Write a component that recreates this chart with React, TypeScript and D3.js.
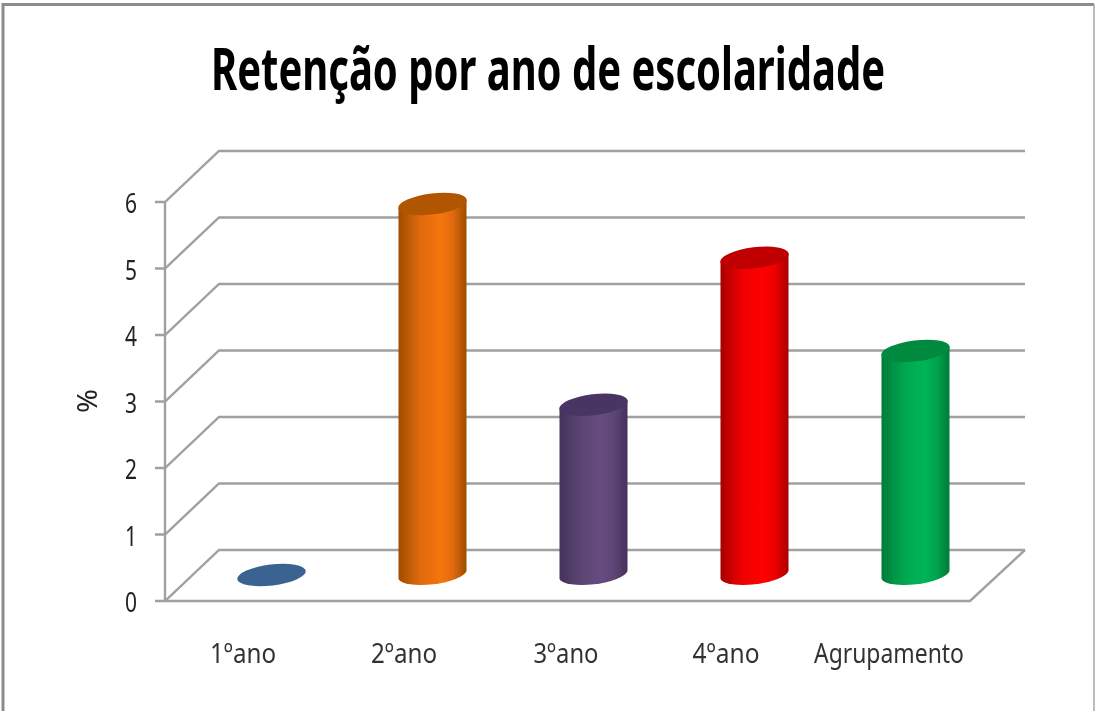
import React from "react";
import * as d3 from "d3";

const categories = ["1ºano", "2ºano", "3ºano", "4ºano", "Agrupamento"];
const values = [0, 5.58, 2.56, 4.77, 3.37];
const barColors = ["#3b6391", "#f5750c", "#664d80", "#ff0000", "#00b457"];
const midColors = ["#3b6391", "#e06a08", "#5d4575", "#ee0000", "#00a650"];
const topColors = ["#3b6391", "#b25504", "#4a3663", "#c00000", "#008a40"];
const edgeColors = ["#3b6391", "#a04c05", "#44325a", "#a80000", "#007a38"];
const yTicks = [0, 1, 2, 3, 4, 5, 6];
const title = "Retenção por ano de escolaridade";
const yTitle = "%";
const labelCenters = [243, 404, 566, 726, 889];
const labelWidths = [66, 66, 65, 67, 150];

const W = 1095, H = 711;
const y = d3.scaleLinear().domain([0, 6]).range([601, 202]);
const x = d3.scaleBand<string>().domain(categories).range([165, 970]).paddingInner(0).paddingOuter(0);
const depthX = 54, depthY = 51;
const baseY = 575;
const rx = 34, ry = 10.5, tilt = -7, skew = 4;
const cxOf = (c: string) => x(c)! + x.bandwidth() / 2 + 26;
const axisFont = "'Noto Sans', 'Open Sans', sans-serif";
const gridColor = "#a0a0a0";

export default function App() {
  const gridPath = d3.line();
  return (
    <svg width={W} height={H} style={{ position: "absolute", left: 0, top: 0, background: "#fff" }}>
      <defs>
        <filter id="soft" filterUnits="userSpaceOnUse" x={0} y={0} width={W} height={H}>
          <feGaussianBlur stdDeviation="0.6" />
        </filter>
        {categories.map((c, i) => (
          <linearGradient key={c} id={`g${i}`} x1="0" x2="1" y1="0" y2="0">
            <stop offset="0" stopColor={edgeColors[i]} />
            <stop offset="0.32" stopColor={midColors[i]} />
            <stop offset="0.62" stopColor={barColors[i]} />
            <stop offset="0.8" stopColor={midColors[i]} />
            <stop offset="1" stopColor={edgeColors[i]} />
          </linearGradient>
        ))}
      </defs>
      <g filter="url(#soft)">
        <path d="M3,711 V4.5 H1094" fill="none" stroke="#8c8c8c" strokeWidth={3} />
        <line x1={1094} x2={1094} y1={4} y2={711} stroke="#a6a6a6" strokeWidth={1.5} />

        {yTicks.map((t) => {
          const py = y(t);
          const pts: [number, number][] = [
            [155, py], [165, py], [165 + depthX, py - depthY], [1025, py - depthY],
          ];
          return <path key={t} d={gridPath(pts)!} fill="none" stroke={gridColor} strokeWidth={2.4} />;
        })}
        <line x1={165} x2={165} y1={y(6)} y2={y(0)} stroke={gridColor} strokeWidth={2.4} />
        <path d={gridPath([[165, y(0)], [970, y(0)], [1025, y(0) - depthY]])!} fill="none" stroke={gridColor} strokeWidth={2.4} />

        {categories.map((c, i) => {
          const cx = cxOf(c);
          const v = values[i];
          const h = y(0) - y(v);
          const topY = baseY - h;
          const body = `M${cx - rx},${topY + skew} L${cx + rx},${topY - skew} L${cx + rx},${baseY - skew}
            A${rx + 0.5},${ry} ${tilt} 0 1 ${cx - rx},${baseY + skew} Z`;
          return (
            <g key={c}>
              {v > 0 && <path d={body} fill={`url(#g${i})`} />}
              <ellipse cx={cx} cy={topY} rx={rx + 0.5} ry={ry} fill={topColors[i]}
                transform={`rotate(${tilt} ${cx} ${topY})`} />
            </g>
          );
        })}

        {yTicks.map((t) => (
          <text key={t} x={137} y={y(t) + 11} textAnchor="end" fontFamily={axisFont} fontSize={28}
            fill="#222" textLength={12} lengthAdjust="spacingAndGlyphs">{t}</text>
        ))}
        <text transform="translate(97,401) rotate(-90)" textAnchor="middle" fontFamily={axisFont}
          fontSize={27} fill="#222" textLength={24} lengthAdjust="spacingAndGlyphs">{yTitle}</text>
        {categories.map((c, i) => (
          <text key={c} x={labelCenters[i]} y={663} textAnchor="middle" fontFamily={axisFont}
            fontSize={27} fill="#333" textLength={labelWidths[i]} lengthAdjust="spacingAndGlyphs">{c}</text>
        ))}
        <text x={548} y={90} textAnchor="middle" fontFamily={axisFont} fontWeight={700} fontSize={59}
          fill="#000" textLength={674} lengthAdjust="spacingAndGlyphs">{title}</text>
      </g>
    </svg>
  );
}
